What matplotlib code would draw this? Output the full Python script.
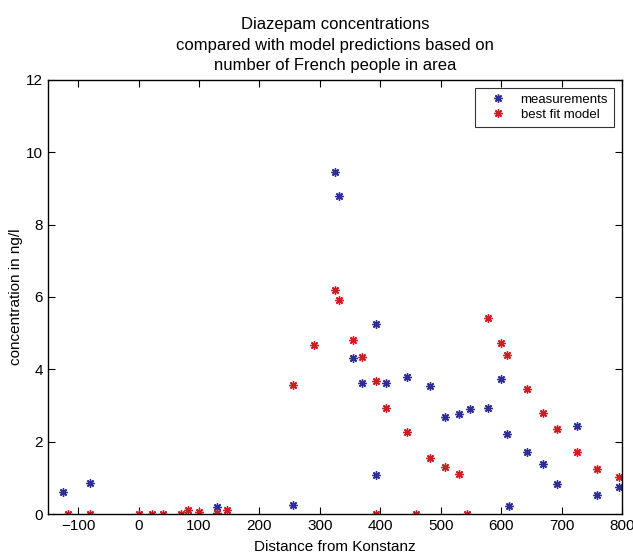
import matplotlib
matplotlib.use("Agg")
import matplotlib.pyplot as plt

plt.rcParams['font.family'] = ['Liberation Sans', 'DejaVu Sans']

# measured concentrations (blue)
meas_x = [-125, -80, 129, 256, 324.5, 332, 355, 369, 392.5, 393.5, 410, 445, 482,
          507.5, 530, 548.5, 578.5, 600.5, 610.5, 612.5, 642, 670, 693, 725.5, 759, 795]
meas_y = [0.60, 0.87, 0.18, 0.26, 9.45, 8.78, 4.30, 3.63, 5.24, 1.07, 3.63, 3.78, 3.53,
          2.69, 2.76, 2.90, 2.94, 3.74, 2.20, 0.23, 1.71, 1.39, 0.82, 2.44, 0.53, 0.74]

# model predictions (red)
model_x = [-117, -80, 0, 22, 41, 70, 81, 100, 129, 146, 256, 291, 324.5, 332, 355, 369,
           392.5, 393.5, 410, 445, 459.5, 482, 507.5, 530, 543, 578.5, 600.5, 610.5,
           642, 670, 693, 725.5, 759, 795]
model_y = [0, 0, 0, 0, 0, 0, 0.11, 0.05, 0.04, 0.11, 3.56, 4.66, 6.18, 5.93, 4.82, 4.34,
           3.67, 0, 2.94, 2.27, 0, 1.55, 1.30, 1.11, 0, 5.42, 4.74, 4.41,
           3.46, 2.79, 2.34, 1.71, 1.25, 1.01]

xticks = [-100, 0, 100, 200, 300, 400, 500, 600, 700, 800]
yticks = [0, 2, 4, 6, 8, 10, 12]

fig = plt.figure(figsize=(6.33, 5.54), dpi=100)
ax = fig.add_axes([0.0758, 0.0722, 0.9068, 0.7834])

asterisk = (8, 2, 0)
ax.plot(meas_x, meas_y, linestyle='none', marker=asterisk, markersize=6,
        color='#2e2e96', markeredgewidth=1.0, label='measurements')
ax.plot(model_x, model_y, linestyle='none', marker=asterisk, markersize=6,
        color='#cc1f25', markeredgewidth=1.0, label='best fit model')

ax.set_xlim(-150, 800)
ax.set_ylim(0, 12)
ax.set_xticks(xticks)
ax.set_yticks(yticks)
ax.set_xticklabels(['\u2212100' if t < 0 else str(t) for t in xticks])
ax.tick_params(direction='in', top=True, right=True, labelsize=11, length=5, width=0.8)
for s in ax.spines.values():
    s.set_linewidth(1.0)

ax.set_xlabel('Distance from Konstanz', fontsize=11, labelpad=5)
ax.set_ylabel('concentration in ng/l', fontsize=11, labelpad=2)
ax.set_title('Diazepam concentrations\ncompared with model predictions based on\n'
             'number of French people in area', fontsize=12, linespacing=1.45, pad=7)

leg = ax.legend(loc='upper right', fontsize=9.5, frameon=True, fancybox=False,
                edgecolor='black', borderpad=0.45, handletextpad=0.4, handlelength=2.6,
                borderaxespad=0.6, labelspacing=0.2)
leg.get_frame().set_linewidth(0.8)

fig.savefig('out.png', dpi=100)
